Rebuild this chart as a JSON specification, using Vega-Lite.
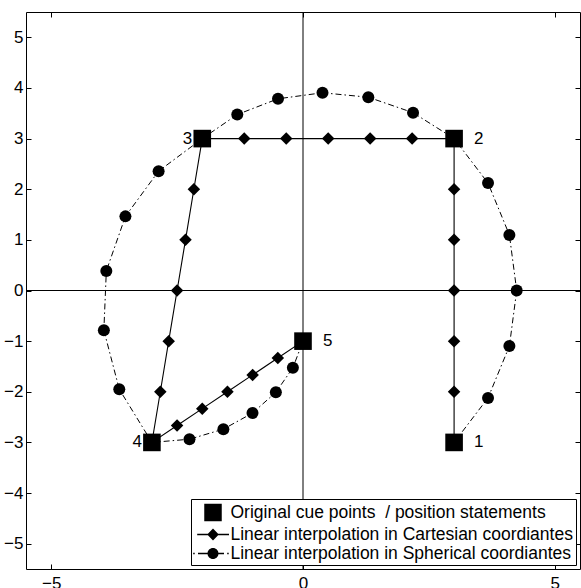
{
  "$schema": "https://vega.github.io/schema/vega-lite/v6.json",
  "width": 554,
  "height": 557,
  "autosize": "none",
  "padding": {"left": 26, "top": 12, "right": 1, "bottom": 19},
  "config": {
    "font": "Liberation Sans",
    "view": {"stroke": "black", "strokeWidth": 1},
    "axis": {"grid": false, "domain": false, "tickColor": "black", "tickWidth": 1, "labelColor": "black", "labelFontSize": 17, "labelFont": "Liberation Sans"}
  },
  "datasets": {
    "cue": [
      {"x": 3, "y": -3, "label": "1"},
      {"x": 3, "y": 3, "label": "2"},
      {"x": -2, "y": 3, "label": "3"},
      {"x": -3, "y": -3, "label": "4"},
      {"x": 0, "y": -1, "label": "5"}
    ],
    "cart": [
      {"i": 0, "x": 3, "y": -3},
      {"i": 1, "x": 3, "y": -2},
      {"i": 2, "x": 3, "y": -1},
      {"i": 3, "x": 3, "y": 0},
      {"i": 4, "x": 3, "y": 1},
      {"i": 5, "x": 3, "y": 2},
      {"i": 6, "x": 3, "y": 3},
      {"i": 7, "x": 2.167, "y": 3},
      {"i": 8, "x": 1.333, "y": 3},
      {"i": 9, "x": 0.5, "y": 3},
      {"i": 10, "x": -0.333, "y": 3},
      {"i": 11, "x": -1.167, "y": 3},
      {"i": 12, "x": -2, "y": 3},
      {"i": 13, "x": -2.167, "y": 2},
      {"i": 14, "x": -2.333, "y": 1},
      {"i": 15, "x": -2.5, "y": 0},
      {"i": 16, "x": -2.667, "y": -1},
      {"i": 17, "x": -2.833, "y": -2},
      {"i": 18, "x": -3, "y": -3},
      {"i": 19, "x": -2.5, "y": -2.667},
      {"i": 20, "x": -2, "y": -2.333},
      {"i": 21, "x": -1.5, "y": -2},
      {"i": 22, "x": -1, "y": -1.667},
      {"i": 23, "x": -0.5, "y": -1.333},
      {"i": 24, "x": 0, "y": -1}
    ],
    "sph": [
      {"i": 0, "x": 3, "y": -3},
      {"i": 1, "x": 3.674, "y": -2.121},
      {"i": 2, "x": 4.098, "y": -1.098},
      {"i": 3, "x": 4.243, "y": 0},
      {"i": 4, "x": 4.098, "y": 1.098},
      {"i": 5, "x": 3.674, "y": 2.121},
      {"i": 6, "x": 3, "y": 3},
      {"i": 7, "x": 2.185, "y": 3.512},
      {"i": 8, "x": 1.297, "y": 3.817},
      {"i": 9, "x": 0.387, "y": 3.905},
      {"i": 10, "x": -0.496, "y": 3.786},
      {"i": 11, "x": -1.305, "y": 3.475},
      {"i": 12, "x": -2, "y": 3},
      {"i": 13, "x": -2.867, "y": 2.357},
      {"i": 14, "x": -3.526, "y": 1.464},
      {"i": 15, "x": -3.905, "y": 0.387},
      {"i": 16, "x": -3.954, "y": -0.785},
      {"i": 17, "x": -3.648, "y": -1.95},
      {"i": 18, "x": -3, "y": -3},
      {"i": 19, "x": -2.254, "y": -2.937},
      {"i": 20, "x": -1.581, "y": -2.738},
      {"i": 21, "x": -1.003, "y": -2.421},
      {"i": 22, "x": -0.539, "y": -2.01},
      {"i": 23, "x": -0.201, "y": -1.527},
      {"i": 24, "x": 0, "y": -1}
    ],
    "leg": [
      {"s": "Original cue points\u00a0 / position statements"},
      {"s": "Linear interpolation in Cartesian coordiantes"},
      {"s": "Linear interpolation in Spherical coordiantes"}
    ]
  },
  "layer": [
    {
      "data": {"values": [{}]},
      "mark": {"type": "rule", "color": "black", "strokeWidth": 1},
      "encoding": {"x": {"datum": 0, "type": "quantitative", "scale": {"domain": [-5.5, 5.5], "nice": false, "zero": false}, "axis": null}}
    },
    {
      "data": {"values": [{}]},
      "mark": {"type": "rule", "color": "black", "strokeWidth": 1},
      "encoding": {"y": {"datum": 0, "type": "quantitative", "scale": {"domain": [-5.5, 5.5], "nice": false, "zero": false}, "axis": null}}
    },
    {
      "data": {"name": "sph"},
      "mark": {"type": "line", "color": "black", "strokeWidth": 1, "strokeDash": [6, 3, 1.5, 3]},
      "encoding": {
        "x": {"field": "x", "type": "quantitative", "scale": {"domain": [-5.5, 5.5], "nice": false, "zero": false}, "axis": {"values": [-5, 0, 5], "ticks": false, "tickSize": 0, "labelPadding": 6.5, "title": null}},
        "y": {"field": "y", "type": "quantitative", "scale": {"domain": [-5.5, 5.5], "nice": false, "zero": false}, "axis": {"values": [-5, -4, -3, -2, -1, 0, 1, 2, 3, 4, 5], "ticks": false, "tickSize": 0, "labelPadding": 3, "title": null}},
        "order": {"field": "i", "type": "quantitative"}
      }
    },
    {
      "data": {"name": "cart"},
      "mark": {"type": "line", "color": "black", "strokeWidth": 1.1},
      "encoding": {
        "x": {"field": "x", "type": "quantitative", "scale": {"domain": [-5.5, 5.5], "nice": false, "zero": false}, "axis": {"orient": "top", "offset": -557, "values": [-5, 0, 5], "labels": false, "tickSize": 5, "title": null}},
        "y": {"field": "y", "type": "quantitative", "scale": {"domain": [-5.5, 5.5], "nice": false, "zero": false}, "axis": {"orient": "right", "offset": -554, "values": [-5, -4, -3, -2, -1, 0, 1, 2, 3, 4, 5], "labels": false, "tickSize": 5, "title": null}},
        "order": {"field": "i", "type": "quantitative"}
      }
    },
    {
      "data": {"name": "sph"},
      "mark": {"type": "point", "shape": "circle", "filled": true, "color": "black", "opacity": 1, "size": 144},
      "encoding": {
        "x": {"field": "x", "type": "quantitative", "scale": {"domain": [-5.5, 5.5], "nice": false, "zero": false}, "axis": {"orient": "bottom", "offset": -557, "values": [-5, 0, 5], "labels": false, "tickSize": 5, "title": null}},
        "y": {"field": "y", "type": "quantitative", "scale": {"domain": [-5.5, 5.5], "nice": false, "zero": false}, "axis": {"orient": "left", "offset": -554, "values": [-5, -4, -3, -2, -1, 0, 1, 2, 3, 4, 5], "labels": false, "tickSize": 5, "title": null}}
      }
    },
    {
      "data": {"name": "cart"},
      "mark": {"type": "point", "shape": "diamond", "filled": true, "color": "black", "opacity": 1, "size": 156},
      "encoding": {
        "x": {"field": "x", "type": "quantitative", "scale": {"domain": [-5.5, 5.5], "nice": false, "zero": false}, "axis": null},
        "y": {"field": "y", "type": "quantitative", "scale": {"domain": [-5.5, 5.5], "nice": false, "zero": false}, "axis": null}
      }
    },
    {
      "data": {"name": "cue"},
      "mark": {"type": "point", "shape": "square", "filled": true, "color": "black", "opacity": 1, "size": 310},
      "encoding": {
        "x": {"field": "x", "type": "quantitative", "scale": {"domain": [-5.5, 5.5], "nice": false, "zero": false}, "axis": null},
        "y": {"field": "y", "type": "quantitative", "scale": {"domain": [-5.5, 5.5], "nice": false, "zero": false}, "axis": null}
      }
    },
    {
      "data": {"name": "cue"},
      "transform": [{"filter": {"field": "label", "oneOf": ["1", "2", "5"]}}],
      "mark": {"type": "text", "align": "left", "baseline": "middle", "dx": 20, "fontSize": 17, "color": "black"},
      "encoding": {
        "x": {"field": "x", "type": "quantitative", "scale": {"domain": [-5.5, 5.5], "nice": false, "zero": false}, "axis": null},
        "y": {"field": "y", "type": "quantitative", "scale": {"domain": [-5.5, 5.5], "nice": false, "zero": false}, "axis": null},
        "text": {"field": "label", "type": "nominal"}
      }
    },
    {
      "data": {"name": "cue"},
      "transform": [{"filter": {"field": "label", "oneOf": ["3", "4"]}}],
      "mark": {"type": "text", "align": "right", "baseline": "middle", "dx": -10, "fontSize": 17, "color": "black"},
      "encoding": {
        "x": {"field": "x", "type": "quantitative", "scale": {"domain": [-5.5, 5.5], "nice": false, "zero": false}, "axis": null},
        "y": {"field": "y", "type": "quantitative", "scale": {"domain": [-5.5, 5.5], "nice": false, "zero": false}, "axis": null},
        "text": {"field": "label", "type": "nominal"}
      }
    },
    {
      "data": {"name": "leg"},
      "mark": {"type": "point", "filled": true, "fill": "black", "opacity": 1, "size": 400},
      "encoding": {
        "x": {"field": "x", "type": "quantitative", "scale": {"domain": [-5.5, 5.5], "nice": false, "zero": false}, "axis": null},
        "y": {"field": "y", "type": "quantitative", "scale": {"domain": [-5.5, 5.5], "nice": false, "zero": false}, "axis": null},
        "shape": {
          "field": "s",
          "type": "nominal",
          "scale": {
            "domain": ["Original cue points\u00a0 / position statements", "Linear interpolation in Cartesian coordiantes", "Linear interpolation in Spherical coordiantes"],
            "range": [
              "M-0.875,-0.875H0.875V0.875H-0.875Z",
              "M-1.58,-0.065H1.6V0.065H-1.58ZM0,-0.6L0.58,0L0,0.6L-0.58,0Z",
              "M-1.98,-0.065H-1.83V0.065H-1.98ZM-1.5,-0.065H-0.5V0.065H-1.5ZM0.5,-0.065H1.1V0.065H0.5ZM1.42,-0.065H1.57V0.065H1.42ZM0.55,0A0.55,0.55 0 1,1 -0.55,0A0.55,0.55 0 1,1 0.55,0Z"
            ]
          },
          "legend": {
            "title": null,
            "orient": "none",
            "legendX": 165,
            "legendY": 487,
            "padding": 3,
            "rowPadding": 0,
            "symbolSize": 400,
            "symbolStrokeWidth": 1,
            "symbolFillColor": "black",
            "symbolOpacity": 1,
            "symbolOffset": 8.5,
            "labelOffset": 7,
            "labelFontSize": 17.5,
            "labelFont": "Liberation Sans",
            "labelColor": "black",
            "labelLimit": 500,
            "fillColor": "white",
            "strokeColor": "black",
            "cornerRadius": 0,
            "encode": {
              "symbols": {
                "update": {
                  "fill": {"value": "black"},
                  "opacity": {"value": 1}
                }
              }
            }
          }
        }
      }
    }
  ],
  "resolve": {"axis": {"x": "independent", "y": "independent"}}
}
